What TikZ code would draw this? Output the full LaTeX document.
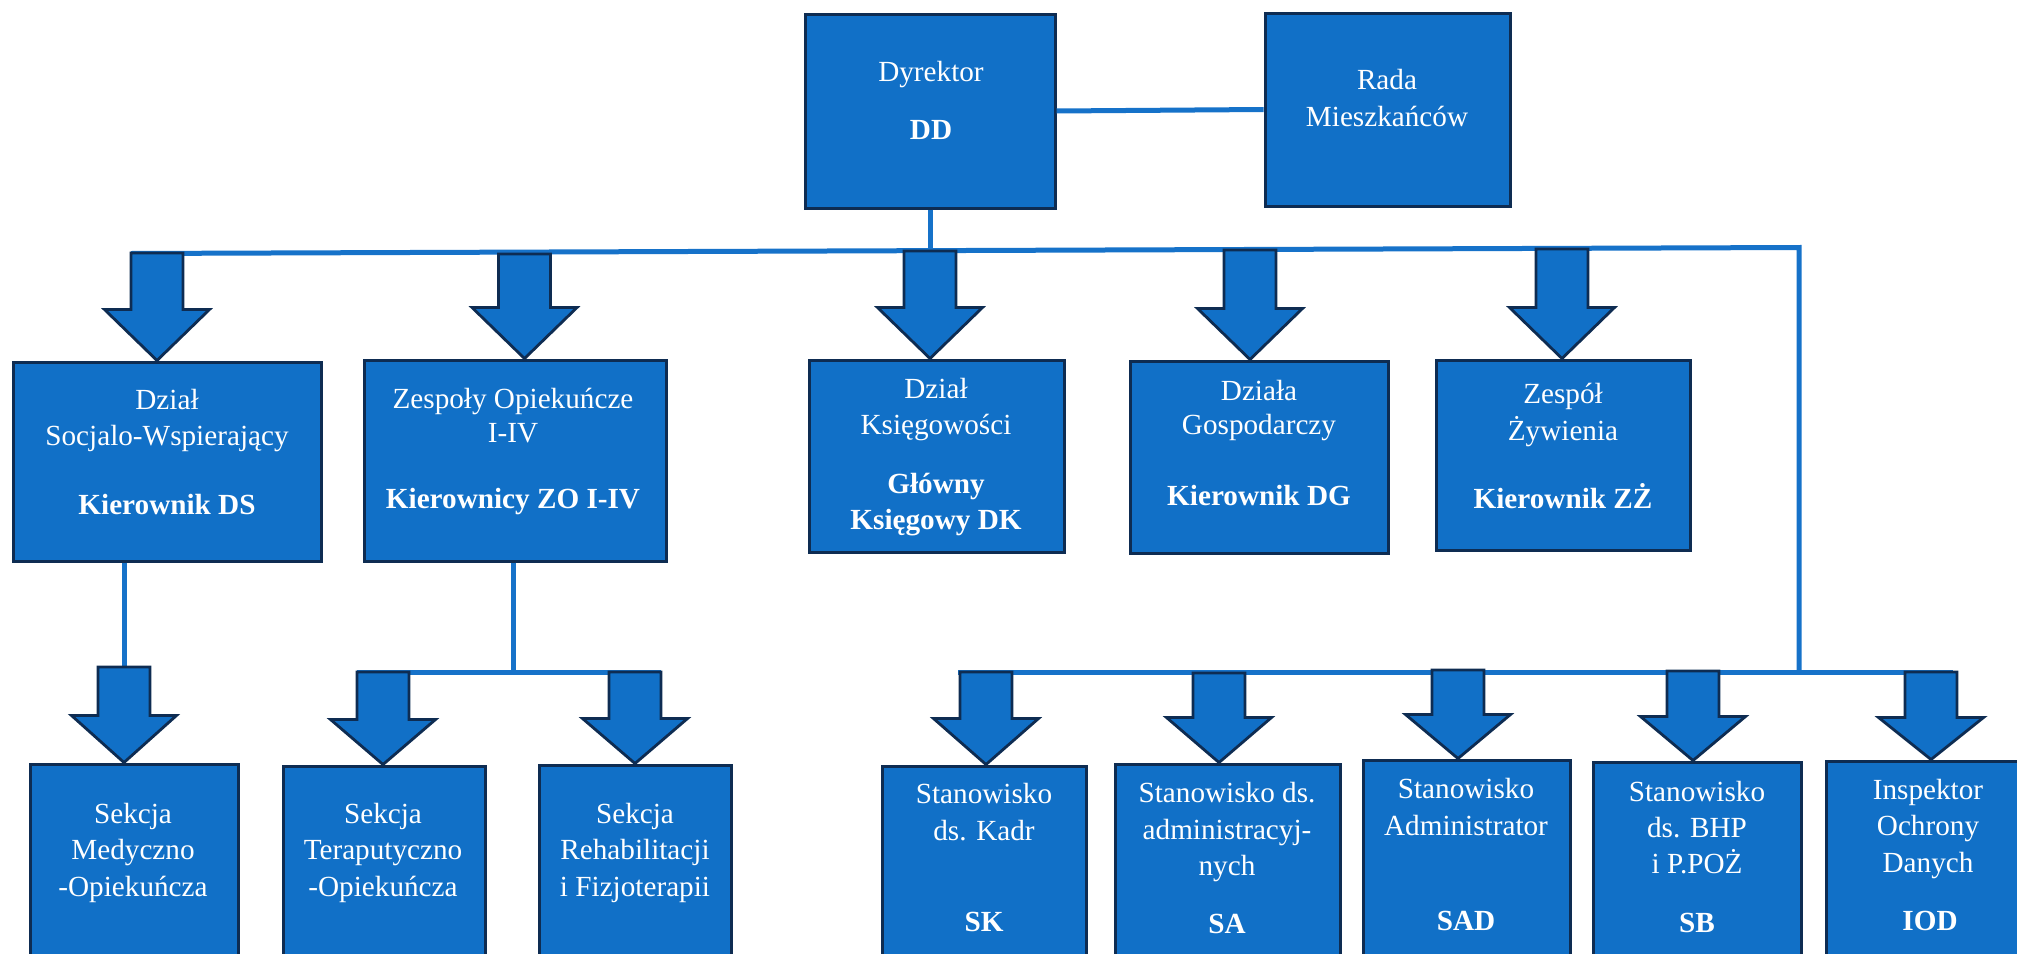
\documentclass[tikz,border=0pt]{standalone}
\usepackage{fontspec}
\setmainfont{Liberation Serif}
\usetikzlibrary{fit,calc}
\definecolor{boxblue}{RGB}{17,112,199}
\definecolor{boxedge}{RGB}{14,44,82}
\definecolor{lineblue}{RGB}{22,114,201}
\tikzset{
 box/.style={draw=boxedge, fill=boxblue, line width=1.5pt, inner sep=0pt},
 wire/.style={draw=lineblue, line width=2.5pt},
 blockarrow/.style={draw=boxedge, fill=boxblue, line width=1.4pt, line join=miter},
 lbl/.style={text=white, anchor=base, inner sep=0pt, font=\fontsize{14.6pt}{18pt}\selectfont},
 lblb/.style={lbl, font=\fontsize{14.6pt}{18pt}\selectfont\bfseries},
}
% #1 = top-centre coordinate on the bus, #2 = target node, #3 = head length
\newcommand\blkarrow[3]{%
  \draw[blockarrow] let \p1=(#1), \p2=(#2.north) in
   ({\x1-13pt},\y1) -- ({\x1+13pt},\y1) -- ({\x1+13pt},{\y2+#3}) --
   ({\x1+26.25pt},{\y2+#3}) -- (\x1,\y2) -- ({\x1-26.25pt},{\y2+#3}) --
   ({\x1-13pt},{\y2+#3}) -- cycle;}
\begin{document}
\begin{tikzpicture}[x=0.5pt,y=-0.5pt]
\useasboundingbox (0,0) rectangle (2017,953);

% ---------- boxes ----------
\node[box, fit={(805,14) (1055,208)}] (dd) {};
\node[box, fit={(1265,13) (1510,206)}] (rada) {};
\node[box, fit={(13,362) (321,561)}] (ds) {};
\node[box, fit={(364,360) (666,561)}] (zo) {};
\node[box, fit={(809,360) (1064,552)}] (dk) {};
\node[box, fit={(1130,361) (1388,553)}] (dg) {};
\node[box, fit={(1436,360) (1690,550)}] (zz) {};
\node[box, fit={(30,764) (238,1000)}] (med) {};
\node[box, fit={(283,766) (485,1000)}] (ter) {};
\node[box, fit={(539,765) (731,1000)}] (reh) {};
\node[box, fit={(882,766) (1086,1000)}] (sk) {};
\node[box, fit={(1115,764) (1340,1000)}] (sa) {};
\node[box, fit={(1363,760) (1570,1000)}] (sad) {};
\node[box, fit={(1593,762) (1801,1000)}] (sb) {};
\node[box, fit={(1826,761) (2034,1000)}] (iod) {};

% ---------- bus coordinates ----------
\coordinate (busL) at (131,253.5);
\coordinate (busR) at (1799,247.5);
\coordinate (lowJ) at (1799,672);
\coordinate (lowL) at (958,672);
\coordinate (lowR) at (1953,672);
\coordinate (subL) at (357,672);
\coordinate (subR) at (661,672);
\coordinate (zoJ) at (513,672);
\coordinate (ddJ) at (930,250.6);

\coordinate (a1) at (157,253);
\coordinate (a2) at (524.5,254);
\coordinate (a3) at (930,251);
\coordinate (a4) at (1250,250);
\coordinate (a5) at (1562,249);
\coordinate (b1) at (124,667);
\coordinate (b2) at (383,672);
\coordinate (b3) at (635,672);
\coordinate (c1) at (986,672);
\coordinate (c2) at (1219,673);
\coordinate (c3) at (1458,670);
\coordinate (c4) at (1693,671);
\coordinate (c5) at (1931,672);

% ---------- wires ----------
\draw[wire] (dd.east) -- (rada.west);
\draw[wire] (dd.south) -- (ddJ);
\draw[wire] (busL) -- (busR) -- (lowJ);
\draw[wire] (lowL) -- (lowR);
\draw[wire] (b1 |- ds.south) -- (b1);
\draw[wire] (zoJ |- zo.south) -- (zoJ);
\draw[wire] (subL) -- (subR);

% ---------- block arrows ----------
\blkarrow{a1}{ds}{25.5pt}
\blkarrow{a2}{zo}{25.5pt}
\blkarrow{a3}{dk}{25.5pt}
\blkarrow{a4}{dg}{25.5pt}
\blkarrow{a5}{zz}{25.5pt}
\blkarrow{b1}{med}{23.5pt}
\blkarrow{b2}{ter}{22.5pt}
\blkarrow{b3}{reh}{22.5pt}
\blkarrow{c1}{sk}{23pt}
\blkarrow{c2}{sa}{22.5pt}
\blkarrow{c3}{sad}{22pt}
\blkarrow{c4}{sb}{22pt}
\blkarrow{c5}{iod}{21pt}

% ---------- texts ----------
\node[lbl]  (dd1) at (931,81) {Dyrektor};
\node[lblb] (dd2) at (931,139) {DD};
\node[lbl]  (ra1) at (1387,89) {Rada};
\node[lbl]  (ra2) at (1387,126) {Mieszkańców};

\node[lbl]  (ds1) at (167,409) {Dział};
\node[lbl]  (ds2) at (167,445) {Socjalo-Wspierający};
\node[lblb] (ds3) at (167,514) {Kierownik DS};

\node[lbl]  (zo1) at (513,408) {Zespoły Opiekuńcze};
\node[lbl]  (zo2) at (513,442) {I-IV};
\node[lblb] (zo3) at (513,508) {Kierownicy ZO I-IV};

\node[lbl]  (dk1) at (936,398) {Dział};
\node[lbl]  (dk2) at (936,434) {Księgowości};
\node[lblb] (dk3) at (936,493) {Główny};
\node[lblb] (dk4) at (936,529) {Księgowy DK};

\node[lbl]  (dg1) at (1259,400) {Działa};
\node[lbl]  (dg2) at (1259,434) {Gospodarczy};
\node[lblb] (dg3) at (1259,505) {Kierownik DG};

\node[lbl]  (zz1) at (1563,403) {Zespół};
\node[lbl]  (zz2) at (1563,440) {Żywienia};
\node[lblb] (zz3) at (1563,508) {Kierownik ZŻ};

\node[lbl] (me1) at (133,823) {Sekcja};
\node[lbl] (me2) at (133,859) {Medyczno};
\node[lbl] (me3) at (133,896) {-Opiekuńcza};

\node[lbl] (te1) at (383,823) {Sekcja};
\node[lbl] (te2) at (383,859) {Teraputyczno};
\node[lbl] (te3) at (383,896) {-Opiekuńcza};

\node[lbl] (re1) at (635,823) {Sekcja};
\node[lbl] (re2) at (635,859) {Rehabilitacji};
\node[lbl] (re3) at (635,896) {i Fizjoterapii};

\node[lbl]  (sk1) at (984,803) {Stanowisko};
\node[lbl]  (sk2) at (984,840) {ds. Kadr};
\node[lblb] (sk3) at (984,931) {SK};

\node[lbl]  (sa1) at (1227,802) {Stanowisko ds.};
\node[lbl]  (sa2) at (1227,839) {administracyj-};
\node[lbl]  (sa3) at (1227,875) {nych};
\node[lblb] (sa4) at (1227,933) {SA};

\node[lbl]  (sd1) at (1466,798) {Stanowisko};
\node[lbl]  (sd2) at (1466,835) {Administrator};
\node[lblb] (sd3) at (1466,930) {SAD};

\node[lbl]  (sb1) at (1697,801) {Stanowisko};
\node[lbl]  (sb2) at (1697,837) {ds. BHP};
\node[lbl]  (sb3) at (1697,873) {i P.POŻ};
\node[lblb] (sb4) at (1697,932) {SB};

\node[lbl]  (io1) at (1928,799) {Inspektor};
\node[lbl]  (io2) at (1928,835) {Ochrony};
\node[lbl]  (io3) at (1928,872) {Danych};
\node[lblb] (io4) at (1930,930) {IOD};
\end{tikzpicture}
\end{document}
